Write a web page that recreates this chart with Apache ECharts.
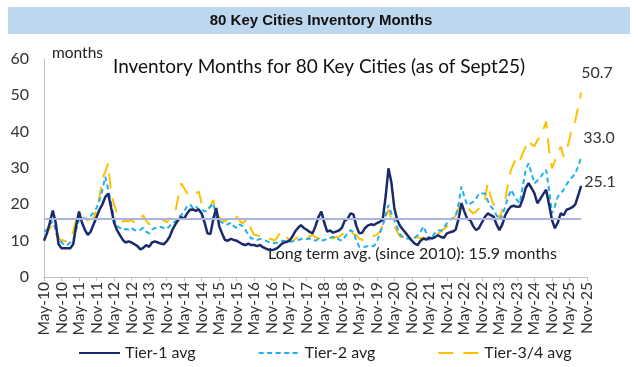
<!DOCTYPE html>
<html>
<head>
<meta charset="utf-8">
<script src="https://cdn.jsdelivr.net/npm/echarts@6/dist/echarts.min.js"></script>
<style>
html,body{margin:0;padding:0;background:#fff;}
#c{width:638px;height:367px;}
</style>
</head>
<body>
<div id="c"></div>
<script>
// ---- data ----
var startYear = 2010, startMonth = 4, nMonths = 187; // May-10 .. Nov-25 (axis span)
var monthNames = ['Jan','Feb','Mar','Apr','May','Jun','Jul','Aug','Sep','Oct','Nov','Dec'];
var longTermAvg = 15.9;
var yTicks = [0, 10, 20, 30, 40, 50, 60];

var tier1 = [10,12,15,18.3,15,9,7.9,7.9,7.9,7.9,9,14,18,15,13,11.6,12.5,14.5,16.5,18.5,20,22,23,19,15,12.9,11.5,10.2,9.5,9.8,
9.5,9,8.5,7.6,8,8.8,8.3,9.5,9.8,9.5,9.2,9,9.8,11,13,14.5,15.7,16.5,16,17.5,18.5,18.6,18.2,18.6,17.5,15,12,11.8,16,19,
14,12,10.2,10,10.5,10.2,10,9.5,9,8.8,9.2,8.8,8.8,8.5,8.8,8.2,7.8,7.5,7.4,7.6,8,8.8,9.4,9.6,10,11,12.5,13.5,14.3,13.5,
13,12.4,12,14,16.5,18,15,12.5,12.8,12.2,12.5,12.8,13.5,15.5,16,17.5,17.2,14,12,12.2,13.5,14.2,14.5,14.3,14.8,15.2,15.7,22,29.9,26,
19,15.7,14,13,12,11,10,9.2,8.8,10,10.6,10.3,10.8,10.6,11,11.5,11,10.8,12,12.3,12.5,13,16,20.3,18,16,15.7,14,12.9,13.5,
15,16.5,17.5,17,16.6,14.5,12.9,14.5,17,18.5,19.4,19.6,19.3,19.4,21.5,24.5,25.8,24.5,23,20.3,21.5,22.8,24,20,15.7,13.4,15,17.5,17,18.5,
18.8,19.2,20,22.5,25.1];

var tier2 = [12.5,13,14.5,15.2,13,11,9.5,8.8,8.8,9.5,10.2,13,15.7,16.5,16,16.2,16.8,17.8,19,21,24,27.6,24,20.3,16,14,13.5,13,13.2,13,
13.5,12.9,12.7,13,13.5,12.5,12,13,13.5,13.5,13.8,13.5,13.2,14,15,15.2,16.5,17,18,19.5,20,19,19.5,18.5,18.8,18,18.5,19.4,20.3,16.6,
15.5,15,14.3,14.5,15,14,13.5,14.5,14,13,11.5,10.6,10.6,10.2,10.5,10.2,10,9.6,9.5,9.3,9.5,9.8,10,9.8,9.6,9.8,10,10.2,10.4,10.6,
10.4,10.6,10.2,10,10.4,10,10.2,10.5,10.8,11,11.1,10.3,10,11,12,12.9,12.4,10,8.3,8.2,8.3,8.5,8.3,8.6,9.5,12,13.9,17,19.8,17.5,
15.7,13.5,11.6,11,10.6,10.6,10.5,10.8,11.5,12.5,13.9,12,10.2,11,12.2,12.9,12.7,13.5,14.8,15.7,16.2,16.6,20,24.9,22,19.8,20.2,20.7,21.5,23,
23,23,21,19.5,18.5,17,15.7,17,19.4,22,24,22.5,21.2,20.3,25,29.5,31.3,28.5,25.8,26.5,27.5,28.5,29.5,24,17.5,19.5,22.1,23,24,25.5,
26.7,27.5,28.6,30.5,33.0];

var tier34 = [10.5,12,13.5,14.3,12,10.6,10.2,9.9,9.7,10.5,12.5,15.7,15.8,15.5,15.7,15.6,16,16.2,18.5,22,27.2,29,31.3,23,20,17.5,15.7,15.2,15.5,15.3,
15.7,15,14.8,16,17,15.5,14.5,15.3,15.2,15.7,16,15.7,15,16.2,16.6,18,22.1,25.8,24.5,23,23.2,22.5,23,23.5,20.3,19.5,18.5,19.5,21.2,17.5,
16.5,15.8,15.2,16,17,16.8,16.6,15.5,14.8,15.5,16,13,11.6,11.5,11,11.2,10.8,10.6,10.4,10,11,12.5,11.8,11,10.2,9.7,10.5,11,10.8,10.5,
10.6,11.2,11.6,11,10.6,10.8,10.6,10.5,10.8,10.6,11,11.1,11.6,12.3,12.9,12.6,11.8,11.6,10.5,10.2,10.4,10.6,11,11.3,11.6,12.5,14.3,16.5,18.5,16,
13.9,12.5,11.1,11,11.1,11.2,11.1,10.8,11,10.6,10.8,10.6,10.5,10.6,11.2,12,12.5,13.2,13.9,14.8,15.7,17,18.9,20,20.3,19.4,18.3,17.5,18,18.9,
20,21.2,25.8,22.1,20,18.5,16,18.5,21.2,26,29.5,31.5,33.1,32,34,35.9,37.7,36.5,36,37.7,38.5,40.5,42.8,35,29.9,32,34,35.9,33.1,34.8,
38,41.4,43,47,50.7];

var categories = [];
for (var k = 0; k < nMonths; k++) {
  var m = (startMonth + k) % 12;
  var y = startYear + Math.floor((startMonth + k) / 12);
  categories.push(monthNames[m] + '-' + String(y).slice(2));
}

var seriesNames = ['Tier-1 avg', 'Tier-2 avg', 'Tier-3/4 avg'];
var colors = ['#1B2A6B', '#1EB1F0', '#FFC000'];

var chart = echarts.init(document.getElementById('c'), null, {renderer: 'canvas'});
var lblFont = 'Lato, "Open Sans", sans-serif';

var option = {
  animation: false,
  backgroundColor: '#fff',
  grid: {left: 44, right: 51, top: 59, bottom: 90, containLabel: false},
  graphic: [
    {type: 'rect', shape: {x: 8, y: 7, width: 622, height: 27}, style: {fill: '#BDD7EE'}, silent: true},
    {type: 'text', x: 321, y: 21, style: {text: '80 Key Cities Inventory Months', fill: '#111',
      font: 'bold 15px "Liberation Sans", Arial, sans-serif', textAlign: 'center', textVerticalAlign: 'middle'}},
    {type: 'text', x: 52, y: 53, style: {text: 'months', fill: '#222', font: '15.5px ' + lblFont, textVerticalAlign: 'middle'}},
    {type: 'text', x: 319, y: 67, style: {text: 'Inventory Months for 80 Key Cities (as of Sept25)', fill: '#111',
      font: '19px ' + lblFont, textAlign: 'center', textVerticalAlign: 'middle'}},
    {type: 'text', x: 268, y: 254, style: {text: 'Long term avg. (since 2010): ' + longTermAvg + ' months', fill: '#222',
      font: '16px ' + lblFont, textVerticalAlign: 'middle'}}
  ],
  legend: {
    data: seriesNames,
    left: 73, top: 340,
    itemWidth: 41, itemHeight: 14, itemGap: 62,
    itemStyle: {opacity: 0},
    textStyle: {fontFamily: lblFont, fontSize: 16, color: '#222'}
  },
  xAxis: {
    type: 'category', data: categories, boundaryGap: false,
    axisLine: {lineStyle: {color: '#BFBFBF', width: 1}},
    axisTick: {show: true, interval: 5, length: 4, lineStyle: {color: '#BFBFBF'}},
    axisLabel: {interval: 5, rotate: 90, fontFamily: lblFont, fontSize: 15.5, color: '#333', margin: 5},
    splitLine: {show: false}
  },
  yAxis: {
    type: 'value', min: yTicks[0], max: yTicks[yTicks.length - 1], interval: 10,
    axisLine: {show: true, lineStyle: {color: '#BFBFBF'}},
    axisTick: {show: false},
    axisLabel: {fontFamily: lblFont, fontSize: 16, color: '#333', margin: 15},
    splitLine: {show: false}
  },
  series: [
    {name: seriesNames[0], type: 'line', data: tier1, showSymbol: false, symbol: 'none', z: 4,
      lineStyle: {color: colors[0], width: 2.5}, itemStyle: {color: colors[0]},
      endLabel: {show: true, formatter: function(p){return p.value.toFixed(1);}, fontFamily: lblFont, fontSize: 16, color: '#333', offset: [-5, -4]},
      markLine: {silent: true, symbol: ['none', 'none'], label: {show: false},
        lineStyle: {color: '#AAB4DC', width: 2, type: 'solid'},
        data: [[{coord: [0, longTermAvg]}, {coord: [184, longTermAvg]}]]}
    },
    {name: seriesNames[1], type: 'line', data: tier2, showSymbol: false, symbol: 'none', z: 3,
      lineStyle: {color: colors[1], width: 2, type: [5, 3.5]}, itemStyle: {color: colors[1]},
      endLabel: {show: true, formatter: function(p){return p.value.toFixed(1);}, fontFamily: lblFont, fontSize: 16, color: '#333', offset: [-6, -19]}
    },
    {name: seriesNames[2], type: 'line', data: tier34, showSymbol: false, symbol: 'none', z: 2,
      lineStyle: {color: colors[2], width: 2, type: [15, 10]}, itemStyle: {color: colors[2]},
      endLabel: {show: true, formatter: function(p){return p.value.toFixed(1);}, fontFamily: lblFont, fontSize: 16, color: '#333', offset: [-8, -20]}
    }
  ]
};
chart.setOption(option);
</script>
</body>
</html>
